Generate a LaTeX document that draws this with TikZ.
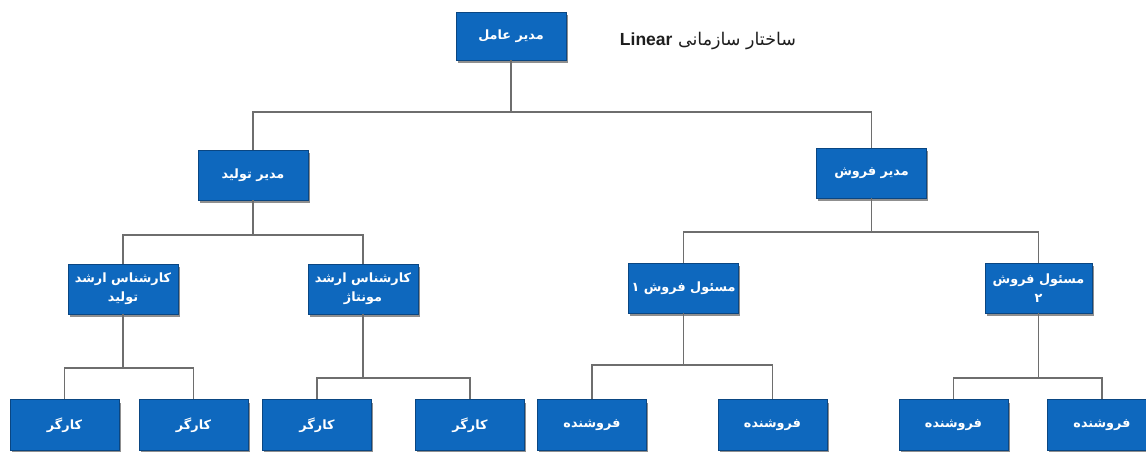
\documentclass[tikz,border=0pt]{standalone}
\usepackage{fontspec}
\setmainfont{DejaVu Sans}
\newfontfamily\arabicfont[Script=Arabic]{DejaVu Sans}
\newfontfamily\latinfont{Liberation Sans}
\TeXXeTstate=1
\usetikzlibrary{shadows}
\definecolor{boxblue}{RGB}{14,104,190}
\definecolor{boxedge}{RGB}{10,70,130}
\definecolor{linegray}{RGB}{110,110,110}
\definecolor{titlegray}{RGB}{30,30,30}
\tikzset{
  orgbox/.style={draw=boxedge, line width=0.8pt, fill=boxblue,
    minimum width=110pt, minimum height=50pt, inner xsep=1pt, inner ysep=2pt, text=white,
    font=\arabicfont\bfseries\fontsize{12.8}{19}\selectfont, align=center,
    drop shadow={shadow xshift=1.5pt, shadow yshift=-3pt, opacity=0.55, fill=black!80}},
  link/.style={draw=linegray, line width=1.3pt},
  titletext/.style={text=titlegray, font=\arabicfont\fontsize{17.5}{20}\selectfont},
}
\begin{document}
\begin{tikzpicture}[x=1pt,y=-1pt]
\fill[white] (0,0) rectangle (1146,451);
\useasboundingbox (0,0) rectangle (1146,451);

% level 0
\node[orgbox, minimum height=48pt] (ceo) at (511,36) {\beginR مدیر عامل\endR};
\node[titletext] (title) at (708,41) {\beginR ساختار سازمانی \beginL{\latinfont\bfseries Linear}\endL\endR};

% level 1
\node[orgbox] (prod) at (253,175) {\beginR مدیر تولید\endR};
\node[orgbox] (sales) at (871.5,173) {\beginR مدیر فروش\endR};

% level 2
\node[orgbox] (kp) at (123,289) {\beginR کارشناس ارشد\endR\\\beginR تولید\endR};
\node[orgbox] (km) at (363,289) {\beginR کارشناس ارشد\endR\\\beginR مونتاژ\endR};
\node[orgbox] (s1) at (683.5,288) {\beginR مسئول فروش ۱\endR};
\node[orgbox, minimum width=107pt] (s2) at (1038.5,288) {\beginR مسئول فروش\endR\\\beginR ۲\endR};

% level 3
\node[orgbox, minimum width=109pt, minimum height=51pt] (w1) at (64.5,425) {\beginR کارگر\endR};
\node[orgbox, minimum width=109pt, minimum height=51pt] (w2) at (193.5,425) {\beginR کارگر\endR};
\node[orgbox, minimum width=109pt, minimum height=51pt] (w3) at (317,425) {\beginR کارگر\endR};
\node[orgbox, minimum width=109pt, minimum height=51pt] (w4) at (470,425) {\beginR کارگر\endR};
\node[orgbox, minimum width=109pt, minimum height=51pt] (f1) at (592,425) {\beginR فروشنده\endR};
\node[orgbox, minimum width=109pt, minimum height=51pt] (f2) at (772.5,425) {\beginR فروشنده\endR};
\node[orgbox, minimum width=109pt, minimum height=51pt] (f3) at (953.5,425) {\beginR فروشنده\endR};
\node[orgbox, minimum width=109pt, minimum height=51pt] (f4) at (1102,425) {\beginR فروشنده\endR};

% junctions
\coordinate (j0) at (511,112);
\coordinate (j1) at (253,235);
\coordinate (j2) at (871.5,232);
\coordinate (j3) at (123,368);
\coordinate (j4) at (363,378);
\coordinate (j5) at (683.5,365);
\coordinate (j6) at (1038.5,378);

% connectors
\draw[link] (ceo.south) -- (j0);
\draw[link] (j0) -| (prod.north);
\draw[link] (j0) -| (sales.north);

\draw[link] (prod.south) -- (j1);
\draw[link] (j1) -| (kp.north);
\draw[link] (j1) -| (km.north);

\draw[link] (sales.south) -- (j2);
\draw[link] (j2) -| (s1.north);
\draw[link] (j2) -| (s2.north);

\draw[link] (kp.south) -- (j3);
\draw[link] (j3) -| (w1.north);
\draw[link] (j3) -| (w2.north);

\draw[link] (km.south) -- (j4);
\draw[link] (j4) -| (w3.north);
\draw[link] (j4) -| (w4.north);

\draw[link] (s1.south) -- (j5);
\draw[link] (j5) -| (f1.north);
\draw[link] (j5) -| (f2.north);

\draw[link] (s2.south) -- (j6);
\draw[link] (j6) -| (f3.north);
\draw[link] (j6) -| (f4.north);
\end{tikzpicture}
\end{document}
